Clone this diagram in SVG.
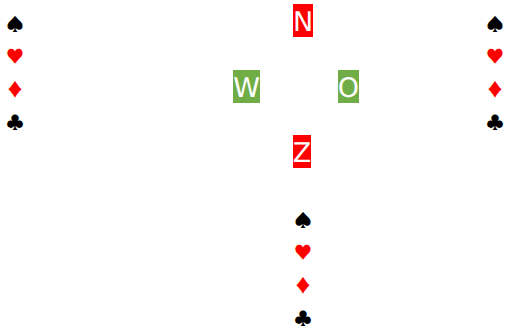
<svg xmlns="http://www.w3.org/2000/svg" width="507" height="327" viewBox="0 0 507 327">
<style>
text{font-family:"DejaVu Sans",sans-serif;text-rendering:geometricPrecision}
.l{font-size:27px;fill:#fff;text-anchor:middle}
text.s{font-family:"Noto Sans CJK SC",sans-serif;font-size:18px;text-anchor:middle}
.r{fill:#f00}
.g{fill:#70ad47}
.k{fill:#000}
</style>
<rect width="507" height="327" fill="#fff"/>
<g id="north"><rect class="r" x="293" y="4" width="20" height="33"/><text class="l" x="303" y="31">N</text></g>
<g id="west"><rect class="g" x="233" y="70" width="27" height="33"/><text class="l" x="246.500" y="97">W</text></g>
<g id="east"><rect class="g" x="338" y="70" width="21" height="33"/><text class="l" x="348.500" y="97">O</text></g>
<g id="south"><rect class="r" x="293" y="135" width="18" height="33"/><text class="l" x="302" y="162">Z</text></g>
<g id="hand-west"><text class="s k" x="15" y="31">♠</text><text class="s r" x="15" y="63">♥</text><text class="s r" x="15" y="96">♦</text><text class="s k" x="15" y="129">♣</text></g>
<g id="hand-east"><text class="s k" x="495" y="31">♠</text><text class="s r" x="495" y="63">♥</text><text class="s r" x="495" y="96">♦</text><text class="s k" x="495" y="129">♣</text></g>
<g id="hand-south"><text class="s k" x="303" y="227">♠</text><text class="s r" x="303" y="259">♥</text><text class="s r" x="303" y="292">♦</text><text class="s k" x="303" y="325">♣</text></g>
</svg>
